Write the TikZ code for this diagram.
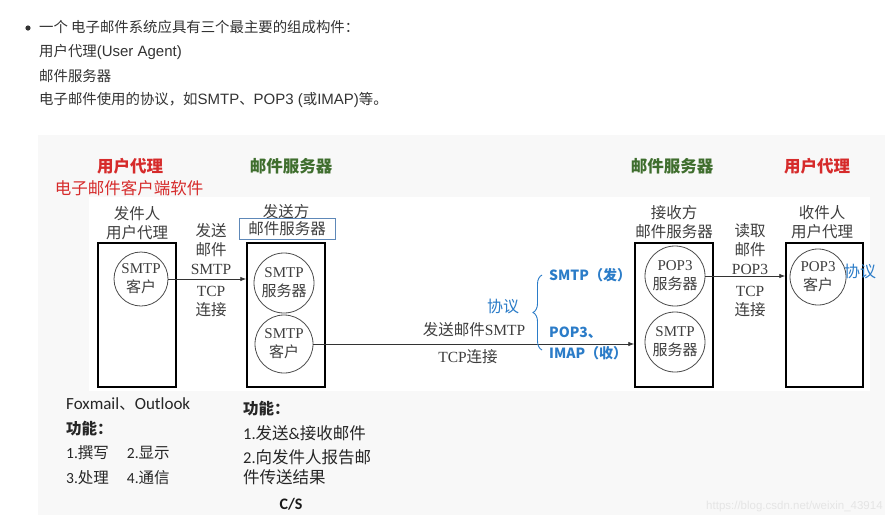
\documentclass[tikz,border=0pt]{standalone}
\usepackage{fontspec}
\setmainfont{Liberation Serif}
\newfontfamily\fCjk{Noto Sans CJK SC}
\newfontfamily\fAri{Liberation Sans}
\newfontfamily\fCal{Carlito}
\newfontfamily\fTms{Liberation Serif}
\newcommand\tm[1]{{\fTms #1}}
\newcommand\ar[1]{{\fAri\fontsize{15}{18}\selectfont #1}}
\newcommand\cb[1]{{\fCal #1}}
\usetikzlibrary{arrows.meta,decorations.pathreplacing}
\definecolor{panel}{HTML}{F8F8F8}
\definecolor{txt}{HTML}{333333}
\definecolor{figtxt}{HTML}{3E3E3E}
\definecolor{uared}{HTML}{D62B2B}
\definecolor{srvgreen}{HTML}{3F6E2E}
\definecolor{pblue}{HTML}{2B7CC8}
\definecolor{boxblue}{HTML}{5E88B8}
\begin{document}
\begin{tikzpicture}[x=1pt,y=-1pt,
  toptxt/.style={anchor=west, inner sep=0pt, text=txt, font=\fCjk\fontsize{14.4}{18}\selectfont},
  hdr/.style={inner sep=0pt, font=\fCjk\bfseries\fontsize{16.5}{20}\selectfont},
  ubox/.style={draw=black, line width=1.5pt, minimum width=78pt, minimum height=144pt, inner sep=0pt},
  circ/.style={circle, draw=black!70, line width=0.8pt, inner sep=0pt, align=center, text=figtxt, font=\fCjk\fontsize{15}{19}\selectfont},
  arr/.style={draw=black!80, line width=0.8pt, -{Latex[length=6pt,width=4.5pt]}},
  figlbl/.style={align=center, inner sep=0pt, text=figtxt, font=\fCjk\fontsize{15.5}{19.5}\selectfont},
  bluelbl/.style={inner sep=0pt, text=pblue, font=\fCjk\fontsize{16}{20}\selectfont},
  bluebold/.style={inner sep=0pt, anchor=west, align=left, text=pblue, font=\fCjk\bfseries\fontsize{14}{21}\selectfont},
  bot/.style={anchor=west, inner sep=0pt, text=black!85, font=\fCjk\fontsize{15.5}{18}\selectfont},
  botr/.style={anchor=west, inner sep=0pt, text=black!85, font=\fCjk\fontsize{16.5}{18}\selectfont}
]
\fill[white] (0,0) rectangle (885,515);
\useasboundingbox (0,0) rectangle (885,515);
\fill[panel] (38,135) rectangle (885,515);
\fill[white] (89,197) rectangle (870,391);

% top text
\fill[txt] (28,28) circle (2.6pt);
\node[toptxt] (t1) at (39,27) {一个 电子邮件系统应具有三个最主要的组成构件：};
\node[toptxt] (t2) at (39,52) {用户代理\ar{(User Agent)}};
\node[toptxt] (t3) at (39,76) {邮件服务器};
\node[toptxt] (t4) at (39,100) {电子邮件使用的协议，如\ar{SMTP}、\ar{POP3 (}或\ar{IMAP)}等。};

% headers
\node[hdr, text=uared] (h1) at (130,166) {用户代理};
\node[inner sep=0pt, text=uared, font=\fCjk\fontsize{16.5}{20}\selectfont] (h2) at (129,188) {电子邮件客户端软件};
\node[hdr, text=srvgreen] (h3) at (291,166) {邮件服务器};
\node[hdr, text=srvgreen] (h4) at (672,166) {邮件服务器};
\node[hdr, text=uared] (h5) at (817,166) {用户代理};

% boxes
\node[ubox] (ua1) at (137,315) {};
\node[ubox] (ss) at (286,315) {};
\node[ubox] (rs) at (674,315) {};
\node[ubox, minimum width=77pt] (ua2) at (824.5,315) {};

% circles
\node[circ, minimum size=54pt] (c1) at (141,279) {\tm{SMTP}\\客户};
\node[circ, minimum size=60pt] (c2) at (284,283) {\tm{SMTP}\\服务器};
\node[circ, minimum size=58pt] (c3) at (284,344) {\tm{SMTP}\\客户};
\node[circ, minimum size=60pt] (c4) at (675,276) {\tm{POP3}\\服务器};
\node[circ, minimum size=60pt] (c5) at (675,342) {\tm{SMTP}\\服务器};
\node[circ, minimum size=56pt] (c6) at (818,277) {\tm{POP3}\\客户};

% arrows
\draw[arr] (c1.east) -- (c1.east -| ss.west);
\draw[arr] (c3.east) -- (c3.east -| rs.west);
\draw[arr] (c4.east) -- (c4.east -| ua2.west);

% labels above boxes
\node[figlbl] (l1) at (137,223) {发件人\\用户代理};
\node[figlbl] (l2) at (286,212) {发送方};
\node[figlbl, draw=boxblue, line width=0.7pt, minimum width=96pt, minimum height=21pt] (l2b) at (287,229) {邮件服务器};
\node[figlbl, font=\fCjk\fontsize{15.5}{18.5}\selectfont] (l3) at (674,222) {接收方\\邮件服务器};
\node[figlbl, font=\fCjk\fontsize{15.5}{18.5}\selectfont] (l4) at (822,222) {收件人\\用户代理};

% between labels
\node[figlbl, font=\fCjk\fontsize{15.5}{19}\selectfont] (m1) at (211,249) {发送\\邮件\\\tm{SMTP}};
\node[figlbl, font=\fCjk\fontsize{15.5}{19}\selectfont] (m2) at (211,301) {\tm{TCP}\\连接};
\node[figlbl, font=\fCjk\fontsize{15.5}{19}\selectfont] (m3) at (750,249) {读取\\邮件\\\tm{POP3}};
\node[figlbl, font=\fCjk\fontsize{15.5}{19}\selectfont] (m4) at (750,301) {\tm{TCP}\\连接};
\node[figlbl] (mid1) at (474,330) {发送邮件\tm{SMTP}};
\node[figlbl] (mid2) at (468,357) {\tm{TCP}连接};

% protocol brace
\draw[pblue, line width=0.9pt, decorate, decoration={brace, amplitude=9pt, aspect=0.5}] (542,350) -- (542,275);
\node[bluelbl] (p1) at (503,306) {协议};
\node[bluebold] (p2) at (549,275) {SMTP（发）};
\node[bluebold] (p3) at (549,343) {POP3、\\IMAP（收）};
\node[bluelbl] (p4) at (860,271) {协议};

% bottom text
\node[bot] (b1) at (66,404) {{\fCal\fontsize{17}{18}\selectfont Foxmail}、{\fCal\fontsize{17}{18}\selectfont Outlook}};
\node[bot, font=\fCjk\bfseries\fontsize{15.5}{18}\selectfont] (b2) at (66,429) {功能：};
\node[bot] (b3) at (66,453) {\cb{1.}撰写\hspace{18pt}\cb{2.}显示};
\node[bot] (b4) at (66,478) {\cb{3.}处理\hspace{18pt}\cb{4.}通信};
\node[botr, font=\fCjk\bfseries\fontsize{15.5}{18}\selectfont] (r1) at (243,409) {功能：};
\node[botr] (r2) at (243,433) {\cb{1.}发送\cb{\&}接收邮件};
\node[botr] (r3) at (243,457) {\cb{2.}向发件人报告邮};
\node[botr] (r4) at (243,477) {件传送结果};
\node[inner sep=0pt, text=black!90, font=\fCal\bfseries\fontsize{16}{18}\selectfont] (cs) at (291,504) {C/S};

% watermark
\node[anchor=west, inner sep=0pt, text=black!10, font=\fAri\fontsize{11.5}{13}\selectfont] (wm) at (706,507) {https://blog.csdn.net/weixin\_43914};
\end{tikzpicture}
\end{document}
